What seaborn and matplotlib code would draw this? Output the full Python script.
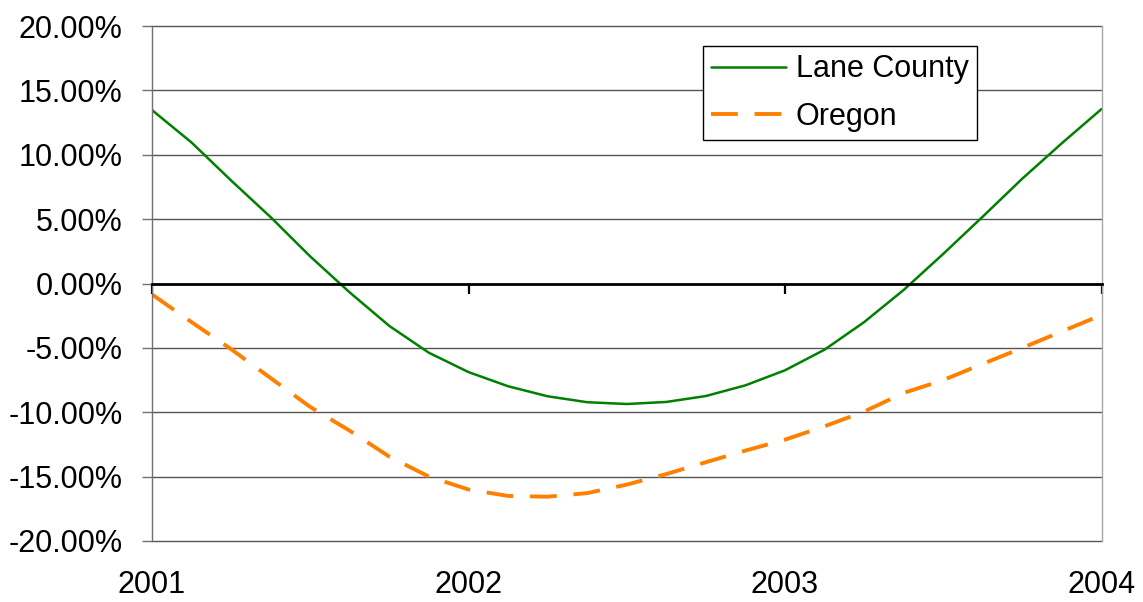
import matplotlib
matplotlib.use("Agg")
import matplotlib.pyplot as plt
import matplotlib.ticker as mticker
import numpy as np
import pandas as pd
import seaborn as sns

# Year-over-year change (%), sampled every 1/8 of a year from 2001 to 2004
periods = np.arange(25)
lane_county = [13.47, 10.95, 8.0, 5.15, 2.1, -0.7, -3.3, -5.38, -6.88, -7.98,
               -8.76, -9.22, -9.36, -9.2, -8.74, -7.91, -6.74, -5.14, -3.0,
               -0.5, 2.3, 5.2, 8.15, 10.9, 13.55]
oregon = [-0.85, -3.0, -5.1, -7.35, -9.59, -11.44, -13.45, -15.0, -16.0, -16.5,
          -16.56, -16.28, -15.62, -14.8, -13.88, -12.98, -12.13, -11.09, -9.95,
          -8.5, -7.5, -6.24, -5.0, -3.72, -2.45]
year_ticks = [2001, 2002, 2003, 2004]
y_ticks = [-20, -15, -10, -5, 0, 5, 10, 15, 20]

years = 2001 + periods / 8.0
df = pd.DataFrame({"year": years, "Lane County": lane_county, "Oregon": oregon})

sns.set_theme(style="white")
plt.rcParams["font.family"] = ["Liberation Sans", "DejaVu Sans"]
plt.rcParams["font.size"] = 22
plt.rcParams["text.color"] = "black"
plt.rcParams["xtick.color"] = "black"
plt.rcParams["ytick.color"] = "black"

fig = plt.figure(figsize=(11.43, 6.02), dpi=100)
ax = fig.add_axes([152 / 1143, 1 - 541 / 602, (1101.5 - 152) / 1143, (541 - 26) / 602])

sns.lineplot(data=df, x="year", y="Lane County", ax=ax, color="#008000",
             linewidth=1.8, label="Lane County")
sns.lineplot(data=df, x="year", y="Oregon", ax=ax, color="#FF8000",
             linewidth=2.8, linestyle=(0, (6.9, 4.3)), label="Oregon")

ax.set_xlim(2001, 2004)
ax.set_ylim(-20, 20)
ax.set_xlabel("")
ax.set_ylabel("")

# Horizontal gridlines
ax.set_yticks(y_ticks)
ax.yaxis.set_major_formatter(mticker.FuncFormatter(lambda v, _: f"{v:.2f}%"))
ax.yaxis.grid(True, color="#555555", linewidth=1.0)
ax.xaxis.grid(False)
ax.set_axisbelow(True)
for gl in ax.get_ygridlines():
    gl.set_clip_on(False)
ax.tick_params(axis="y", which="major", direction="out", length=7.2, width=1.0,
               color="#707070", pad=14, labelsize=22, left=True, labelcolor="black")

# Spines: gray left/right, bottom spine moved to the zero line
ax.spines["top"].set_visible(False)
ax.spines["left"].set_color("#707070")
ax.spines["left"].set_linewidth(1.0)
ax.spines["right"].set_color("#a8a8a8")
ax.spines["right"].set_linewidth(1.0)
ax.spines["bottom"].set_position(("data", 0))
ax.spines["bottom"].set_color("black")
ax.spines["bottom"].set_linewidth(2.0)
ax.spines["bottom"].set_zorder(2.5)
ax.set_xticks(year_ticks)
ax.tick_params(axis="x", which="major", direction="out", length=7.2, width=1.6,
               color="black", bottom=True, labelbottom=False)

# Year labels along the bottom edge of the plot
sec = ax.secondary_xaxis("bottom")
sec.set_xticks(year_ticks)
sec.set_xticklabels([str(y) for y in year_ticks])
sec.spines["bottom"].set_visible(False)
sec.tick_params(axis="x", length=0, pad=21, labelsize=22, labelcolor="black")

leg = ax.legend(loc="upper left", bbox_to_anchor=(0.580, 0.961), borderaxespad=0,
                fontsize=22, frameon=True, fancybox=False, framealpha=1,
                edgecolor="black", handlelength=2.45, handletextpad=0.33,
                borderpad=0.27, labelspacing=0.58)
leg.get_frame().set_linewidth(1.0)
for t in leg.get_texts():
    t.set_color("black")

fig.savefig("out.png", dpi=100)
